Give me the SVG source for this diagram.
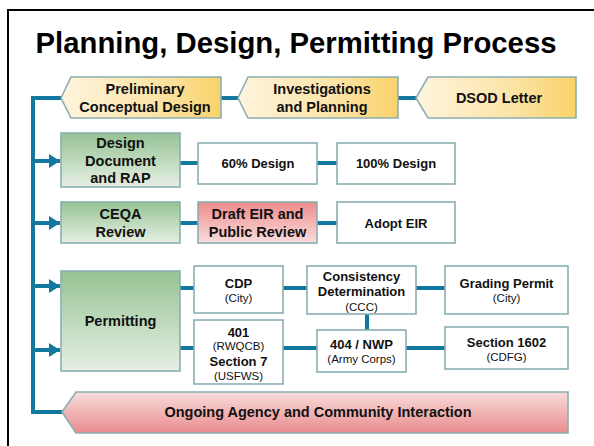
<svg xmlns="http://www.w3.org/2000/svg" width="594" height="446" viewBox="0 0 594 446">
<defs>
<linearGradient id="gY" x1="0" y1="0" x2="1" y2="0"><stop offset="0" stop-color="#fef4de"/><stop offset="0.6" stop-color="#fce4a6"/><stop offset="1" stop-color="#f9d26a"/></linearGradient>
<linearGradient id="gG" x1="0" y1="0" x2="0" y2="1"><stop offset="0" stop-color="#96c394"/><stop offset="1" stop-color="#e6efe4"/></linearGradient>
<linearGradient id="gR" x1="0" y1="0" x2="0" y2="1"><stop offset="0" stop-color="#ee8c8c"/><stop offset="1" stop-color="#f9dcdc"/></linearGradient>
<linearGradient id="gR2" x1="0" y1="0" x2="0" y2="1"><stop offset="0" stop-color="#f8dcdc"/><stop offset="1" stop-color="#ea8c8c"/></linearGradient>
<marker id="arr" markerUnits="userSpaceOnUse" markerWidth="12" markerHeight="14" refX="11" refY="7" orient="auto"><path d="M0,0 L11,7 L0,14 Z" fill="#12789f"/></marker>
</defs>
<style>
.sh{stroke:#8aaeb2;stroke-width:1.6}
.w{fill:#ffffff}
.c{fill:none;stroke:#12789f;stroke-width:4}
text{font-family:"Liberation Sans",Arial,sans-serif;fill:#111;text-anchor:middle}
.b{font-weight:bold;font-size:13px}
.bl{font-weight:bold;font-size:14.5px}
.s{font-size:11.5px}
</style>
<rect width="594" height="446" fill="#ffffff"/>
<path d="M8,446 V10 H594" fill="none" stroke="#000" stroke-width="2"/>
<text x="296" y="53" style="font-size:29.3px;font-weight:bold;fill:#000">Planning, Design, Permitting Process</text>

<g id="connectors">
<path class="c" d="M62,98 H33 V412 H63"/>
<path class="c" d="M33,161 H60" marker-end="url(#arr)"/>
<path class="c" d="M33,223 H60" marker-end="url(#arr)"/>
<path class="c" d="M33,286 H60" marker-end="url(#arr)"/>
<path class="c" d="M33,350 H60" marker-end="url(#arr)"/>
<path class="c" d="M220,98 H239"/>
<path class="c" d="M397,98 H417"/>
<path class="c" d="M180,163 H198"/>
<path class="c" d="M317,163 H337"/>
<path class="c" d="M180,223 H198"/>
<path class="c" d="M317,223 H337"/>
<path class="c" d="M180,288 H194"/>
<path class="c" d="M283,288 H307"/>
<path class="c" d="M416,288 H445"/>
<path class="c" d="M180,348 H194"/>
<path class="c" d="M283,348 H317"/>
<path class="c" d="M406,348 H445"/>
<path class="c" d="M367,314 V330"/>
</g>

<g id="prelim">
<polygon class="sh" fill="url(#gY)" points="61,98 71,77 221,77 221,118 71,118"/>
<text class="bl" x="145" y="94">Preliminary</text>
<text class="bl" x="145" y="112">Conceptual Design</text>
</g>
<g id="investigations">
<polygon class="sh" fill="url(#gY)" points="238,98 248,77 398,77 398,118 248,118"/>
<text class="bl" x="322" y="94">Investigations</text>
<text class="bl" x="322" y="112">and Planning</text>
</g>
<g id="dsod">
<polygon class="sh" fill="url(#gY)" points="416,98 428,77 576,77 576,118 428,118"/>
<text class="bl" x="499" y="103">DSOD Letter</text>
</g>

<g id="designdoc">
<rect class="sh" fill="url(#gG)" x="61" y="133" width="119" height="54"/>
<text class="bl" x="120.5" y="148">Design</text>
<text class="bl" x="120.5" y="166">Document</text>
<text class="bl" x="120.5" y="183">and RAP</text>
</g>
<g id="d60">
<rect class="sh w" x="198" y="143" width="119" height="41"/>
<text class="b" x="258" y="168">60% Design</text>
</g>
<g id="d100">
<rect class="sh w" x="337" y="143" width="118" height="41"/>
<text class="b" x="396" y="168">100% Design</text>
</g>

<g id="ceqa">
<rect class="sh" fill="url(#gG)" x="61" y="202" width="119" height="41"/>
<text class="bl" x="120.5" y="219">CEQA</text>
<text class="bl" x="120.5" y="237">Review</text>
</g>
<g id="draft">
<rect class="sh" fill="url(#gR)" x="198" y="202" width="119" height="41"/>
<text class="bl" x="257.5" y="219">Draft EIR and</text>
<text class="bl" x="257.5" y="237">Public Review</text>
</g>
<g id="adopt">
<rect class="sh w" x="337" y="202" width="118" height="41"/>
<text class="b" x="396" y="228">Adopt EIR</text>
</g>

<g id="permitting">
<rect class="sh" fill="url(#gG)" x="61" y="271" width="119" height="100"/>
<text class="bl" x="120.5" y="326">Permitting</text>
</g>
<g id="cdp">
<rect class="sh w" x="194" y="266" width="89" height="47"/>
<text class="b" x="238.5" y="288">CDP</text>
<text class="s" x="238.5" y="302">(City)</text>
</g>
<g id="consistency">
<rect class="sh w" x="307" y="266" width="109" height="48"/>
<text class="b" x="361.5" y="281">Consistency</text>
<text class="b" x="361.5" y="296">Determination</text>
<text class="s" x="361.5" y="311">(CCC)</text>
</g>
<g id="grading">
<rect class="sh w" x="445" y="266" width="123" height="48"/>
<text class="b" x="506.5" y="288">Grading Permit</text>
<text class="s" x="506.5" y="302">(City)</text>
</g>
<g id="s401">
<rect class="sh w" x="194" y="320" width="89" height="64"/>
<text class="b" x="238.5" y="337">401</text>
<text class="s" x="238.5" y="350">(RWQCB)</text>
<text class="b" x="238.5" y="366">Section 7</text>
<text class="s" x="238.5" y="380">(USFWS)</text>
</g>
<g id="nwp">
<rect class="sh w" x="317" y="330" width="89" height="42"/>
<text class="b" x="361.5" y="349">404 / NWP</text>
<text class="s" x="361.5" y="363">(Army Corps)</text>
</g>
<g id="s1602">
<rect class="sh w" x="445" y="327" width="123" height="42"/>
<text class="b" x="506.5" y="347">Section 1602</text>
<text class="s" x="506.5" y="361">(CDFG)</text>
</g>

<g id="ongoing">
<polygon class="sh" fill="url(#gR2)" points="62,412 76,392 568,392 568,433 76,433"/>
<text class="bl" x="318" y="417">Ongoing Agency and Community Interaction</text>
</g>
</svg>
